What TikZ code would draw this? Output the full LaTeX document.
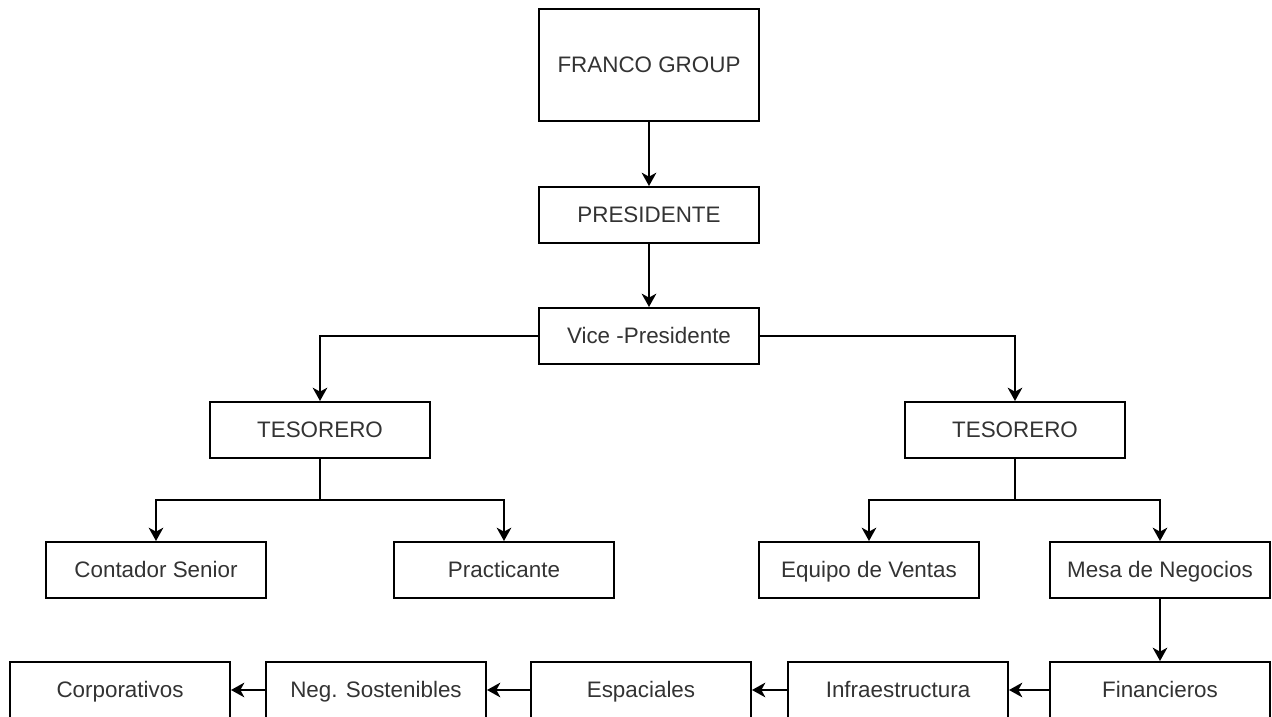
\documentclass[tikz,border=0pt]{standalone}
\usepackage{fontspec}
\setmainfont{Liberation Sans}
\usetikzlibrary{arrows.meta}
\definecolor{txt}{HTML}{333333}
\begin{document}
\begin{tikzpicture}[x=0.75pt,y=-0.75pt,
  box/.style={draw=black,line width=1.5pt,fill=white,inner sep=0pt,
    minimum width=165pt,minimum height=42pt,text=txt,
    text height=13pt,text depth=1.5pt,
    font=\fontsize{16.8pt}{19pt}\selectfont},
  link/.style={line width=1.5pt,draw=black},
  arr/.style={link,-{Stealth[length=10pt,width=11pt,inset=3pt]}}]
\useasboundingbox (0,0) rectangle (1272,717);
\clip (0,0) rectangle (1272,717);
\fill[white] (0,0) rectangle (1272,717);

% top of the chart
\node[box,minimum height=84pt] (franco) at (649,65) {FRANCO GROUP};
\node[box] (pres) at (649,215) {PRESIDENTE};
\node[box] (vice) at (649,336) {Vice -Presidente};

% treasurers
\node[box] (tesL) at (320,430) {TESORERO};
\node[box] (tesR) at (1015,430) {TESORERO};

% staff
\node[box] (cont) at (156,570) {Contador Senior};
\node[box] (prac) at (504,570) {Practicante};
\node[box] (equi) at (869,570) {Equipo de Ventas};
\node[box] (mesa) at (1160,570) {Mesa de Negocios};

% business lines
\node[box] (corp) at (120,690) {Corporativos};
\node[box] (neg)  at (376,690) {Neg. Sostenibles};
\node[box] (esp)  at (641,690) {Espaciales};
\node[box] (infr) at (898,690) {Infraestructura};
\node[box] (fin)  at (1160,690) {Financieros};

% connectors
\draw[arr] (franco) -- (pres);
\draw[arr] (pres) -- (vice);
\draw[arr] (vice.west) -| (tesL.north);
\draw[arr] (vice.east) -| (tesR.north);

\coordinate (jL) at (320,500);
\coordinate (jR) at (1015,500);
\draw[link] (tesL.south) -- (jL);
\draw[arr] (jL) -| (cont.north);
\draw[arr] (jL) -| (prac.north);
\draw[link] (tesR.south) -- (jR);
\draw[arr] (jR) -| (equi.north);
\draw[arr] (jR) -| (mesa.north);

\draw[arr] (mesa) -- (fin);
\draw[arr] (fin) -- (infr);
\draw[arr] (infr) -- (esp);
\draw[arr] (esp) -- (neg);
\draw[arr] (neg) -- (corp);
\end{tikzpicture}
\end{document}
